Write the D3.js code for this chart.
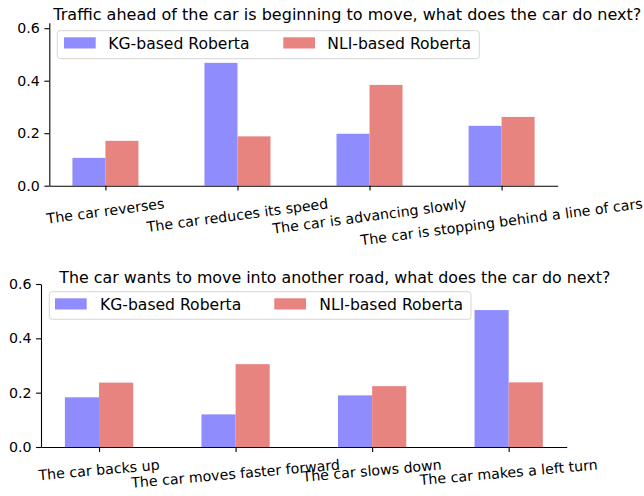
<!DOCTYPE html>
<html>
<head>
<meta charset="utf-8">
<script src="https://cdn.jsdelivr.net/npm/d3@7"></script>
<style>
  html, body { margin: 0; padding: 0; background: #fff; }
  svg { display: block; font-family: "DejaVu Sans", sans-serif; }
</style>
</head>
<body>
<svg id="chart" width="644" height="496"></svg>
<script>
// ---- data ----
const seriesNames = ["KG-based Roberta", "NLI-based Roberta"];
const seriesColors = ["#8f8cfd", "#e88480"];

const title1 = "Traffic ahead of the car is beginning to move, what does the car do next?";
const categories1 = ["The car reverses", "The car reduces its speed", "The car is advancing slowly", "The car is stopping behind a line of cars"];
const kg1 = [0.106, 0.468, 0.198, 0.228];
const nli1 = [0.171, 0.188, 0.384, 0.262];

const title2 = "The car wants to move into another road, what does the car do next?";
const categories2 = ["The car backs up", "The car moves faster forward", "The car slows down", "The car makes a left turn"];
const kg2 = [0.183, 0.120, 0.190, 0.504];
const nli2 = [0.237, 0.305, 0.224, 0.238];

const yTicks = [0, 0.2, 0.4, 0.6];

// ---- layout ----
const panels = [
  { title: title1, cats: categories1, vals: [kg1, nli1], yMax: 0.621,
    x0: 49.3, x1: 557.7, y0: 185.7, y1: 22.7, rot: 7.5,
    titleX: 53.3, titleY: 20, titleSize: 16.05,
    legend: { x: 57.3, y: 30.7, w: 422, h: 28, p1: 64, p2: 283.3, t1: 108.3, t2: 327.3 } },
  { title: title2, cats: categories2, vals: [kg2, nli2], yMax: 0.6,
    x0: 41, x1: 566.7, y0: 447, y1: 284, rot: 5,
    titleX: 59.3, titleY: 283.3, titleSize: 15.85,
    legend: { x: 49.3, y: 291.7, w: 421.7, h: 27.6, p1: 55, p2: 274.3, t1: 100, t2: 319.3 } }
];

const svg = d3.select("#chart");
const tickFont = 14.2;
const barW = 0.25;

panels.forEach(p => {
  const g = svg.append("g");
  const x = d3.scaleLinear().domain([-0.425, p.cats.length - 1 + 0.425]).range([p.x0, p.x1]);
  const y = d3.scaleLinear().domain([0, p.yMax]).range([p.y0, p.y1]);

  // bars
  p.vals.forEach((vals, si) => {
    g.append("g").selectAll("rect").data(vals).join("rect")
      .attr("x", (d, i) => x(i - barW + si * barW))
      .attr("width", (d, i) => x(i + barW) - x(i))
      .attr("y", d => y(d))
      .attr("height", d => y(0) - y(d))
      .attr("fill", seriesColors[si]);
  });

  // y axis
  const yAxis = d3.axisLeft(y).tickValues(yTicks).tickFormat(d3.format(".1f"))
    .tickSizeInner(4.9).tickSizeOuter(0).tickPadding(4.6);
  const ya = g.append("g").attr("transform", `translate(${p.x0},0)`).call(yAxis);
  ya.select(".domain").attr("stroke", "#000").attr("stroke-width", 1.1);
  ya.selectAll(".tick line").attr("stroke", "#000").attr("stroke-width", 1.1);
  ya.selectAll(".tick text").attr("font-size", tickFont).attr("fill", "#000")
    .attr("font-family", "DejaVu Sans");

  // x axis (line + ticks, labels drawn manually with rotation)
  const xAxis = d3.axisBottom(x).tickValues(d3.range(p.cats.length)).tickFormat("")
    .tickSizeInner(4.9).tickSizeOuter(0);
  const xa = g.append("g").attr("transform", `translate(0,${p.y0})`).call(xAxis);
  xa.select(".domain").attr("stroke", "#000").attr("stroke-width", 1.1);
  xa.selectAll(".tick line").attr("stroke", "#000").attr("stroke-width", 1.1);

  const th = p.rot * Math.PI / 180;
  p.cats.forEach((c, i) => {
    const lg = g.append("g");
    const t = lg.append("text").text(c)
      .attr("font-size", tickFont).attr("font-family", "DejaVu Sans")
      .attr("text-anchor", "middle").attr("dy", "0.32em").attr("fill", "#000");
    const w = t.node().getComputedTextLength();
    const h = tickFont * 1.164;
    const H = w * Math.sin(th) + h * Math.cos(th);
    lg.attr("transform", `translate(${x(i)},${p.y0 + 9.8 + H / 2}) rotate(${-p.rot})`);
  });

  // title
  g.append("text").text(p.title)
    .attr("x", p.titleX).attr("y", p.titleY)
    .attr("font-size", p.titleSize).attr("font-family", "DejaVu Sans").attr("fill", "#000");

  // legend
  const L = p.legend;
  const lg = g.append("g");
  lg.append("rect").attr("x", L.x).attr("y", L.y).attr("width", L.w).attr("height", L.h)
    .attr("rx", 3).attr("fill", "#fff").attr("fill-opacity", 0.8)
    .attr("stroke", "#d6d6d6").attr("stroke-width", 1);
  const px = [L.p1, L.p2], tx = [L.t1, L.t2];
  seriesNames.forEach((n, si) => {
    lg.append("rect").attr("x", px[si]).attr("y", L.y + 6.6).attr("width", 31.7).attr("height", 11.2)
      .attr("fill", seriesColors[si]);
    lg.append("text").text(n).attr("x", tx[si]).attr("y", L.y + 18.4)
      .attr("font-size", 15.6).attr("font-family", "DejaVu Sans").attr("fill", "#000");
  });
});
</script>
</body>
</html>
